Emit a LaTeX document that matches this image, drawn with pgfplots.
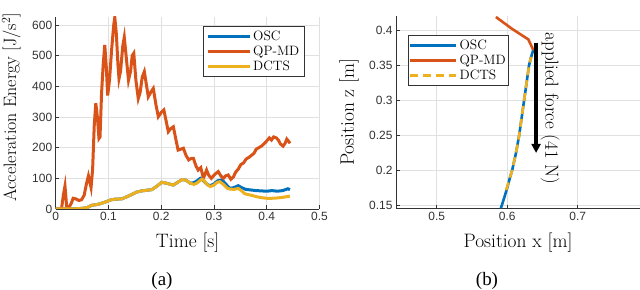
\documentclass[border=0pt]{standalone}
\usepackage{fontspec}
\usepackage{pgfplots}
\pgfplotsset{compat=1.18}
\usetikzlibrary{arrows.meta}
\newfontfamily\ticksf{Liberation Sans}
\newfontfamily\capfont{Liberation Serif}
\definecolor{mblue}{rgb}{0,0.447,0.741}
\definecolor{morange}{rgb}{0.850,0.325,0.098}
\definecolor{myellow}{rgb}{0.929,0.694,0.125}
\newcommand{\labfont}{\fontsize{19.5}{23}\selectfont}
\newcommand{\legfont}{\fontsize{13.6}{16}\selectfont}
\pgfplotsset{
  mystyle/.style={
    scale only axis,
    axis x line*=bottom, axis y line*=left,
    axis line style={black!80, line width=0.8bp},
    tick align=inside, major tick length=3.5bp,
    tick style={black!80, line width=0.7bp},
    grid=major, grid style={black!12, line width=0.7bp},
    tick label style={font=\ticksf\fontsize{12}{14}\selectfont, text=black!80},
    /pgf/number format/assume math mode=true,
    scaled ticks=false,
    label style={font=\labfont},
    legend cell align=left,
  }
}
\begin{document}
\begin{tikzpicture}
\useasboundingbox (0,0) rectangle (640bp,290bp);
\begin{axis}[mystyle,
  at={(55.7bp,81bp)}, anchor=south west,
  width=263.8bp, height=192.3bp,
  xmin=0, xmax=0.5, ymin=0, ymax=627,
  xtick={0,0.1,0.2,0.3,0.4,0.5}, ytick={0,100,200,300,400,500,600},
  xlabel={Time [s]}, ylabel={Acceleration Energy [J/s$^2$]},
  xlabel style={at={(axis description cs:0.5,-0.177)}, anchor=center},
  ylabel style={at={(axis description cs:-0.168,0.53)}, anchor=center, rotate=0, font=\fontsize{18}{21}\selectfont},
  legend style={at={(axis description cs:0.558,0.952)}, anchor=north west,
    font=\legfont, draw=black!80, line width=0.7bp, fill=white, inner xsep=3bp, inner ysep=2.5bp},
  legend image code/.code={\draw[#1] (0bp,0bp) -- (42bp,0bp);},
]
\addplot[mblue, line width=3bp] coordinates {
(0,0) (0.03,0) (0.05,2) (0.06,5) (0.068,12) (0.08,15) (0.093,22) (0.105,30) (0.112,32) (0.125,33) (0.135,40) (0.144,47) (0.153,55) (0.163,59) (0.172,61) (0.182,63) (0.190,72) (0.201,87) (0.210,84) (0.223,78) (0.232,88) (0.240,96) (0.247,94) (0.255,84) (0.262,86) (0.268,92) (0.274,100) (0.280,93) (0.287,80) (0.293,76) (0.300,82) (0.307,92) (0.315,95) (0.322,82) (0.330,67) (0.338,70) (0.346,76) (0.352,70) (0.360,64) (0.370,62) (0.380,60) (0.390,59) (0.400,58) (0.410,60) (0.420,58) (0.430,60) (0.437,64) (0.440,66) (0.444,63)
};
\addlegendentry{OSC}
\addplot[morange, line width=3bp] coordinates {
(0,0) (0.011,0) (0.0145,45) (0.0176,75) (0.0195,35) (0.021,2) (0.025,5) (0.030,20) (0.033,35) (0.038,33) (0.044,28) (0.049,30) (0.054,45) (0.058,80) (0.062,108) (0.065,85) (0.067,70) (0.070,130) (0.073,270) (0.076,345) (0.079,300) (0.082,230) (0.084,235) (0.087,380) (0.090,470) (0.093,535) (0.096,460) (0.0985,370) (0.102,420) (0.106,520) (0.110,600) (0.112,625) (0.115,570) (0.118,470) (0.120,425) (0.123,450) (0.127,530) (0.130,560) (0.134,490) (0.138,420) (0.142,450) (0.145,500) (0.148,508) (0.152,420) (0.1565,360) (0.160,380) (0.164,430) (0.168,448) (0.1755,366) (0.180,380) (0.185,393) (0.190,340) (0.1945,301) (0.200,315) (0.205,323) (0.2135,252) (0.218,262) (0.223,268) (0.228,225) (0.232,192) (0.237,195) (0.242,198) (0.247,175) (0.252,160) (0.257,165) (0.261,165) (0.266,140) (0.270,127) (0.275,135) (0.280,100) (0.286,127) (0.290,110) (0.295,100) (0.301,112) (0.308,122) (0.313,108) (0.318,100) (0.322,108) (0.327,111) (0.332,97) (0.337,105) (0.341,120) (0.346,130) (0.351,145) (0.356,150) (0.361,163) (0.366,168) (0.371,175) (0.376,182) (0.380,195) (0.385,200) (0.390,205) (0.395,213) (0.400,222) (0.405,232) (0.409,225) (0.413,235) (0.418,232) (0.422,225) (0.426,212) (0.431,205) (0.435,215) (0.438,228) (0.441,222) (0.444,214)
};
\addlegendentry{QP-MD}
\addplot[myellow, line width=3bp] coordinates {
(0,0) (0.03,0) (0.05,2) (0.06,5) (0.068,12) (0.08,15) (0.093,22) (0.105,30) (0.112,32) (0.125,33) (0.135,40) (0.144,47) (0.153,55) (0.163,59) (0.172,61) (0.182,63) (0.190,72) (0.201,87) (0.210,84) (0.223,78) (0.232,88) (0.240,96) (0.247,94) (0.255,84) (0.262,80) (0.268,85) (0.276,96) (0.280,95) (0.287,80) (0.293,73) (0.300,78) (0.306,87) (0.311,89) (0.318,80) (0.325,68) (0.330,65) (0.338,64) (0.346,67) (0.352,60) (0.358,50) (0.362,48) (0.370,45) (0.381,40) (0.390,37) (0.400,35) (0.410,35) (0.420,36) (0.430,38) (0.444,42)
};
\addlegendentry{DCTS}
\end{axis}
\begin{axis}[mystyle,
  at={(396bp,81.7bp)}, anchor=south west,
  width=244bp, height=192bp,
  xmin=0.4423, xmax=0.7884, ymin=0.146, ymax=0.42,
  xtick={0.5,0.6,0.7}, ytick={0.15,0.2,0.25,0.3,0.35,0.4},
  xlabel={Position x [m]}, ylabel={Position z [m]},
  xlabel style={at={(axis description cs:0.5,-0.177)}, anchor=center},
  ylabel style={at={(axis description cs:-0.193,0.5)}, anchor=center, rotate=0},
  legend style={at={(axis description cs:0.048,0.901)}, anchor=north west,
    font=\legfont, draw=black!80, line width=0.7bp, fill=white, inner xsep=1bp, inner ysep=2.5bp},
  legend image code/.code={\draw[#1] (0bp,0bp) -- (46bp,0bp);},
]
\addplot[mblue, line width=2.6bp] coordinates {
(0.591,0.146) (0.5955,0.16) (0.600,0.175) (0.604,0.19) (0.607,0.2) (0.6125,0.225) (0.617,0.25) (0.6205,0.275) (0.624,0.3) (0.6275,0.325) (0.631,0.35) (0.634,0.362) (0.637,0.372)
};
\addlegendentry{OSC}
\addplot[morange, line width=2.6bp] coordinates {
(0.584,0.419) (0.607,0.402) (0.630,0.387) (0.637,0.372)
};
\addlegendentry{QP-MD}
\addplot[myellow, line width=2.6bp, dash pattern=on 8bp off 5bp] coordinates {
(0.5985,0.172) (0.604,0.19) (0.607,0.2) (0.6125,0.225) (0.617,0.25) (0.6205,0.275) (0.624,0.3) (0.6275,0.325) (0.631,0.35) (0.634,0.362)
};
\addlegendentry{DCTS}
\draw[black, line width=4bp, -{Triangle[length=9bp,width=9bp]}] (axis cs:0.641,0.382) -- (axis cs:0.641,0.225);
\node[rotate=-90, font=\fontsize{19}{22}\selectfont] at (axis cs:0.6607,0.2883) {applied force (41 N)};
\end{axis}
\node[font=\capfont\fontsize{19}{22}\selectfont] at (162bp,9bp) {(a)};
\node[font=\capfont\fontsize{19}{22}\selectfont] at (487bp,9bp) {(b)};
\end{tikzpicture}
\end{document}
